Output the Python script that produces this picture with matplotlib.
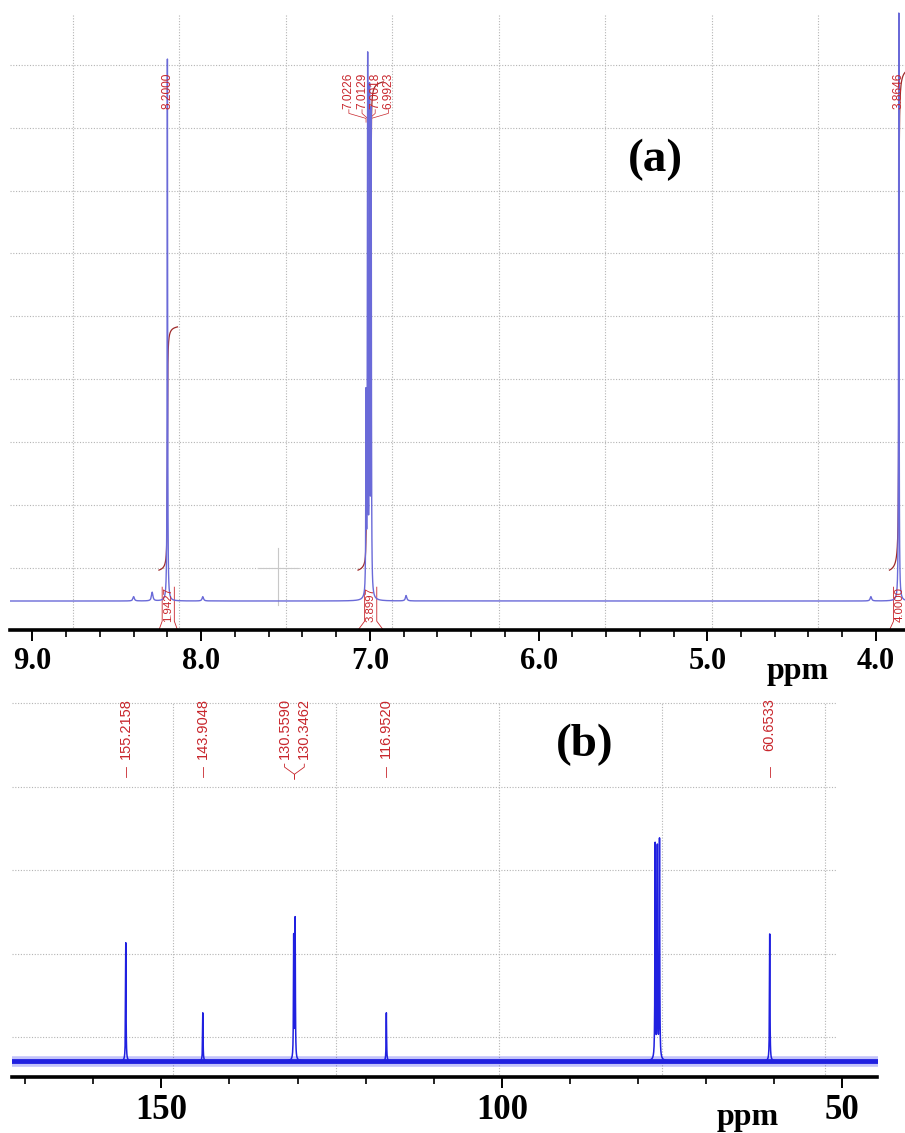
import numpy as np
import matplotlib
matplotlib.use("Agg")
import matplotlib.pyplot as plt
from matplotlib.ticker import MultipleLocator, FormatStrFormatter

plt.rcParams["font.family"] = ["Liberation Serif", "DejaVu Serif"]
plt.rcParams["font.weight"] = "bold"

# ----------------------------------------------------------
# DATA  (a) 1H NMR
# ----------------------------------------------------------
h_peak_ppm = [8.2000, 7.0226, 7.0129, 7.0018, 6.9923, 3.8646]
h_peak_height = [1.00, 0.36, 0.98, 0.91, 0.88, 1.085]
h_peak_labels = ["8.2000", "7.0226", "7.0129", "7.0018", "6.9923", "3.8646"]
h_small_ppm = [8.40, 8.29, 7.99, 6.785, 4.03]
h_small_height = [0.008, 0.016, 0.008, 0.010, 0.008]
h_integral_ranges = [(8.25, 8.14), (7.07, 6.92), (3.92, 3.80)]
h_integral_labels = ["1.9427", "3.8997", "4.0000"]

# ----------------------------------------------------------
# DATA  (b) 13C NMR
# ----------------------------------------------------------
c_peak_ppm = [155.2158, 143.9048, 130.5590, 130.3462, 116.9520,
              77.48, 77.16, 76.84, 60.6533]
c_peak_height = [0.54, 0.22, 0.56, 0.64, 0.22, 0.98, 0.96, 1.00, 0.58]
c_label_ppm = [155.2158, 143.9048, 116.9520, 60.6533]
c_labels = ["155.2158", "143.9048", "116.9520", "60.6533"]
c_pair_ppm = [130.5590, 130.3462]
c_pair_labels = ["130.5590", "130.3462"]

RED = "#c8262c"
INT_RED = "#9e2a2a"
GRID = "#b4b4b4"
W, H = 905, 1133


def lorentz(x, x0, h, w):
    return h * w ** 2 / ((x - x0) ** 2 + w ** 2)


def fig_rect(x0, y0, x1, y1):
    # pixel box (top-left origin) -> figure fraction
    return [x0 / W, 1 - y1 / H, (x1 - x0) / W, (y1 - y0) / H]


def style_axis(ax, major, minor, fmt, size):
    for s in ("left", "right", "top"):
        ax.spines[s].set_visible(False)
    ax.spines["bottom"].set_linewidth(2.6)
    ax.set_yticks([])
    ax.xaxis.set_major_locator(MultipleLocator(major))
    ax.xaxis.set_minor_locator(MultipleLocator(minor))
    ax.xaxis.set_major_formatter(FormatStrFormatter(fmt))
    ax.tick_params(axis="x", which="major", length=8, width=1.4, pad=4,
                   labelsize=size)
    ax.tick_params(axis="x", which="minor", length=5, width=1.2)
    ax.patch.set_visible(False)


def draw_grid(ax, xs, ys, x_end=1.0, y_top=1.0):
    for gx in xs:
        ax.plot([gx, gx], [0, y_top], transform=ax.transAxes, color=GRID,
                lw=0.8, ls=(0, (1, 1.5)), zorder=0, clip_on=False)
    for gy in ys:
        ax.plot([0, x_end], [gy, gy], transform=ax.transAxes, color=GRID,
                lw=0.8, ls=(0, (1, 1.5)), zorder=0, clip_on=False)


fig = plt.figure(figsize=(9.05, 11.33), dpi=100)

# ----------------------------------------------------------
# 1. PROTON SPECTRUM
# ----------------------------------------------------------
ax1 = fig.add_axes(fig_rect(10, 0, 905, 630))
draw_grid(ax1, 0.0704 + 0.1189 * np.arange(8), 0.8968 - 0.0997 * np.arange(9),
          y_top=0.978)

x_h = np.union1d(np.arange(3.80, 9.15, 0.0002), h_peak_ppm)
y_h = np.zeros_like(x_h)
for p, h in zip(h_peak_ppm, h_peak_height):
    y_h += lorentz(x_h, p, h, 0.0016)
for p, h in zip(h_small_ppm, h_small_height):
    y_h += lorentz(x_h, p, h, 0.005)

# integral curves
int_offset, int_scale = 0.057, 0.231
for (hi, lo), val in zip(h_integral_ranges, h_integral_labels):
    m = (x_h <= hi) & (x_h >= lo)
    xs = x_h[m][::-1]
    ys = y_h[m][::-1]
    cum = np.concatenate([[0], np.cumsum(0.5 * (ys[1:] + ys[:-1]) * np.abs(np.diff(xs)))])
    ax1.plot(xs, int_offset + int_scale * float(val) * cum / cum[-1],
             color=INT_RED, lw=0.9, zorder=2)

ax1.plot(x_h, y_h, color="#6a6ad8", lw=1.0, zorder=3)
ax1.set_xlim(9.133, 3.828)
ax1.set_ylim(-0.0535, 1.109)
style_axis(ax1, 1.0, 0.2, "%.1f", 22)

trans1 = ax1.get_xaxis_transform()

# peak labels
for p, lab in [(h_peak_ppm[0], h_peak_labels[0]), (h_peak_ppm[5], h_peak_labels[5])]:
    ax1.text(p, 0.884, lab, transform=trans1, rotation=90, ha="center", va="top",
             fontsize=8.6, color=RED, family="Liberation Sans", weight="normal")
    ax1.plot([p, p], [0.824, 0.806], transform=trans1, color=RED, lw=0.6)

mult_ppm = h_peak_ppm[1:5]
mult_center = np.mean(mult_ppm)
for i, (p, lab) in enumerate(zip(mult_ppm, h_peak_labels[1:5])):
    lx = mult_center + (1.5 - i) * 0.078
    ax1.text(lx, 0.884, lab, transform=trans1, rotation=90, ha="center", va="top",
             fontsize=8.6, color=RED, family="Liberation Sans", weight="normal")
    ax1.plot([lx, lx, p, p], [0.826, 0.820, 0.812, 0.806], transform=trans1,
             color=RED, lw=0.5)

# integral labels + brackets
for (hi, lo), val in zip(h_integral_ranges, h_integral_labels):
    c = 0.5 * (hi + lo)
    ax1.text(c, 0.040, val, transform=trans1, rotation=90, ha="center", va="center",
             fontsize=8.2, color=RED, family="Liberation Sans", weight="normal")
    d = 0.036
    ax1.plot([hi, c + d, c + d], [0.0, 0.014, 0.068], transform=trans1,
             color=RED, lw=0.6)
    ax1.plot([lo, c - d, c - d], [0.0, 0.014, 0.068], transform=trans1,
             color=RED, lw=0.6)

# cursor cross left by the software
ax1.plot([0.277, 0.322], [0.0984, 0.0984], transform=ax1.transAxes,
         color="#c8c8c8", lw=0.8)
ax1.plot([0.2994, 0.2994], [0.040, 0.130], transform=ax1.transAxes,
         color="#c8c8c8", lw=0.8)

fig.text(655 / W, 1 - 160 / H, "(a)", fontsize=34, ha="center", va="center")
fig.text(798 / W, 1 - 671 / H, "ppm", fontsize=23, ha="center", va="center")

# ----------------------------------------------------------
# 2. CARBON SPECTRUM
# ----------------------------------------------------------
ax2 = fig.add_axes(fig_rect(11.5, 700, 877, 1077))
draw_grid(ax2, 0.1866 + 0.1883 * np.arange(5), 0.106 + 0.2215 * np.arange(5),
          x_end=0.953, y_top=0.992)

x_c = np.union1d(np.arange(44.0, 173.0, 0.01), c_peak_ppm)
y_c = np.zeros_like(x_c)
for p, h in zip(c_peak_ppm, c_peak_height):
    y_c += lorentz(x_c, p, h, 0.04)

# baseline noise band (amplitude)
noise_amp = 0.011
ax2.fill_between(x_c, -2.2 * noise_amp, 2.2 * noise_amp, color="#3b3bf0",
                 alpha=0.3, lw=0, zorder=2)
ax2.fill_between(x_c, -noise_amp, noise_amp, color="#2020e0", lw=0, zorder=2)
ax2.plot(x_c, y_c, color="#2020e0", lw=1.1, zorder=3)
ax2.set_xlim(172.0, 44.9)
ax2.set_ylim(-0.073, 1.648)
style_axis(ax2, 50, 10, "%d", 25)

trans2 = ax2.get_xaxis_transform()
for p, lab in zip(c_label_ppm, c_labels):
    ax2.text(p, 1.005, lab, transform=trans2, rotation=90, ha="center", va="top",
             fontsize=10.5, color=RED, family="Liberation Sans", weight="normal")
    ax2.plot([p, p], [0.822, 0.796], transform=trans2, color=RED, lw=0.6)

pair_center = np.mean(c_pair_ppm)
for i, (p, lab) in enumerate(zip(c_pair_ppm, c_pair_labels)):
    lx = pair_center + (0.5 - i) * 2.9
    ax2.text(lx, 1.005, lab, transform=trans2, rotation=90, ha="center", va="top",
             fontsize=10.5, color=RED, family="Liberation Sans", weight="normal")
    ax2.plot([lx, lx, pair_center, pair_center], [0.830, 0.822, 0.803, 0.790],
             transform=trans2, color=RED, lw=0.6)

fig.text(585 / W, 1 - 745 / H, "(b)", fontsize=34, ha="center", va="center")
fig.text(748 / W, 1 - 1118 / H, "ppm", fontsize=23, ha="center", va="center")

fig.savefig("out.png", dpi=100)
plt.close(fig)
